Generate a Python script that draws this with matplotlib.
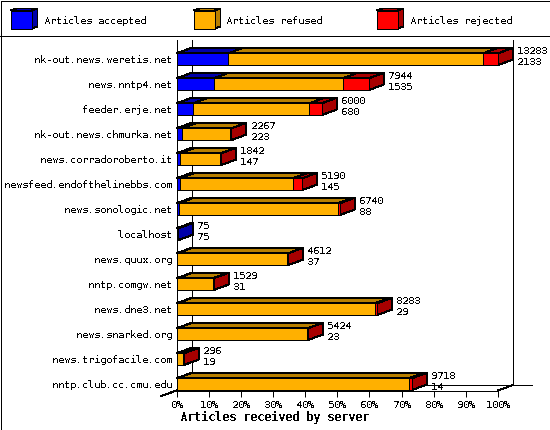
import matplotlib
matplotlib.use('Agg')
import matplotlib.pyplot as plt
from matplotlib.patches import Polygon, Rectangle

servers = ['nk-out.news.weretis.net', 'news.nntp4.net', 'feeder.erje.net',
           'nk-out.news.chmurka.net', 'news.corradoroberto.it',
           'newsfeed.endofthelinebbs.com', 'news.sonologic.net', 'localhost',
           'news.quux.org', 'nntp.comgw.net', 'news.dne3.net',
           'news.snarked.org', 'news.trigofacile.com', 'nntp.club.cc.cmu.edu']
totals = [13283, 7944, 6000, 2267, 1842, 5190, 6740, 75, 4612, 1529, 8283, 5424, 296, 9718]
accepted = [2133, 1535, 680, 223, 147, 145, 88, 75, 37, 31, 29, 23, 19, 14]
rejected = [620, 1077, 513, 10, 30, 388, 85, 0, 12, 40, 100, 10, 3, 130]
legend_names = ['Articles accepted', 'Articles refused', 'Articles rejected']
pct_ticks = [0, 10, 20, 30, 40, 50, 60, 70, 80, 90, 100]

FRONT = ['#0000ff', '#ffb000', '#ff0000']
DARK = ['#0000a8', '#b87f00', '#a80000']
W, H = 550, 430
LW = 0.72  # one pixel at 100 dpi
FS = 7.2

plt.rcParams['font.family'] = ['DejaVu Sans Mono']
plt.rcParams['text.antialiased'] = False
plt.rcParams['text.hinting'] = 'native'
plt.rcParams['text.hinting_factor'] = 1


def poly(axis, pts, color):
    axis.add_patch(Polygon(pts, closed=True, facecolor=color, edgecolor='black',
                           linewidth=LW, antialiased=False, clip_on=False))


fig = plt.figure(figsize=(W / 100, H / 100), dpi=100, facecolor='white')

# whole-image layer, in pixels, for the frame and legend
bg = fig.add_axes([0, 0, 1, 1])
bg.set_xlim(0, W)
bg.set_ylim(H, 0)
bg.axis('off')
bg.add_patch(Rectangle((0.5, 0.5), W - 1, H - 1, fill=False, edgecolor='black',
                       linewidth=LW, antialiased=False))
bg.plot([0, W], [35.5, 35.5], color='black', lw=LW, antialiased=False)

for i, name in enumerate(legend_names):
    x0 = 10.5 + 183 * i
    poly(bg, [(x0, 10.5), (x0 + 6, 8.5), (x0 + 27, 8.5), (x0 + 21, 10.5)], DARK[i])
    poly(bg, [(x0 + 21, 10.5), (x0 + 27, 8.5), (x0 + 27, 26.5), (x0 + 21, 28.5)], DARK[i])
    poly(bg, [(x0, 10.5), (x0 + 21, 10.5), (x0 + 21, 28.5), (x0, 28.5)], FRONT[i])
    bg.text(x0 + 33, 20.5, name, fontsize=FS, va='center', ha='left')

# plot area: front plane runs 176.5..498 px wide and 40..390.5 px tall
ax = fig.add_axes([176.5 / W, 1 - 390.5 / H, 321.5 / W, 350.5 / H])
ax.patch.set_alpha(0)
max_total = max(totals)
ax.set_xlim(0, max_total)
ax.set_ylim(13.25, -0.768)
dx = max_total * 15 / 321.5
dy = 5.5 / 25
half = 0.235

for side in ['top', 'right']:
    ax.spines[side].set_visible(False)
for side in ['left', 'bottom']:
    ax.spines[side].set_antialiased(False)
    ax.spines[side].set_linewidth(LW)
ax.set_xticks([max_total * p / 100 for p in pct_ticks])
ax.set_xticklabels([f'{p}%' for p in pct_ticks], fontsize=FS)
ax.tick_params(axis='x', length=4.5, width=LW, pad=2.5)
ax.set_yticks(range(len(servers)))
ax.set_yticklabels(servers, fontsize=FS)
ax.tick_params(axis='y', length=0, pad=3.5)

# back wall and floor
back = 13.25 - dy
for xs, ys in [([dx, dx], [-0.768, back]),
               ([max_total + dx, max_total + dx], [-0.768, back]),
               ([dx, max_total * 1.105], [back, back]),
               ([max_total, max_total + dx], [13.25, back]),
               ([0, -dx], [13.25, 13.25 + dy])]:
    ax.plot(xs, ys, color='black', lw=LW, antialiased=False, clip_on=False, zorder=1)

for y, total, acc, rej in zip(range(len(servers)), totals, accepted, rejected):
    parts = [acc, total - acc - rej, rej]
    top, bot = y - half, y + half
    left = 0
    last = max(j for j, v in enumerate(parts) if v > 0)
    for j, v in enumerate(parts):
        if v <= 0:
            continue
        right = left + v
        poly(ax, [(left, top), (left + dx, top - dy), (right + dx, top - dy), (right, top)], DARK[j])
        if j == last:
            poly(ax, [(right, top), (right + dx, top - dy), (right + dx, bot - dy), (right, bot)], DARK[j])
        poly(ax, [(left, top), (right, top), (right, bot), (left, bot)], FRONT[j])
        left = right
    ax.annotate(str(total), (total + dx, y), xytext=(3, 5.8), textcoords='offset points',
                fontsize=FS, va='center', ha='left', annotation_clip=False)
    ax.annotate(str(acc), (total + dx, y), xytext=(3, -2), textcoords='offset points',
                fontsize=FS, va='center', ha='left', annotation_clip=False)

bg.text(274, 417, 'Articles received by server', fontsize=8.4, fontweight='bold',
        va='center', ha='center')

fig.savefig('out.png', dpi=100)
